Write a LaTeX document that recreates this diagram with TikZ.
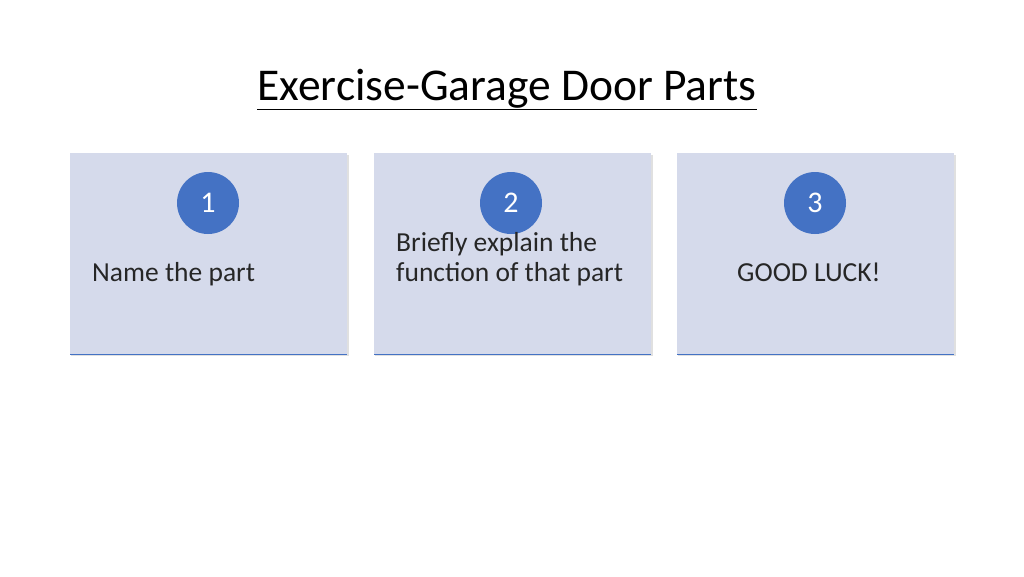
\documentclass[tikz,border=0pt]{standalone}
\usepackage{fontspec}
\setmainfont{Carlito}
\definecolor{boxfill}{HTML}{D5DAEB}
\definecolor{accent}{HTML}{4472C4}
\begin{document}
\begin{tikzpicture}[x=1pt,y=-1pt,
  card/.style={fill=boxfill,draw=none},
  numc/.style={circle,fill=accent,text=white,minimum size=62pt,inner sep=0pt,font=\fontsize{30}{34}\selectfont},
  lbl/.style={anchor=base west,align=left,font=\fontsize{27.5}{30}\selectfont,text=black!85,inner sep=0pt}]
\useasboundingbox (0,0) rectangle (1024,576);
\fill[white] (0,0) rectangle (1024,576);
\node[anchor=base,inner sep=0pt] (title) at (507,100) {\fontsize{45.5}{50}\selectfont\underline{Exercise-Garage Door Parts}};
\foreach \i/\x in {1/70,2/374,3/677}{
  \fill[black!12] (\x+1,155) rectangle (\x+279,356);
  \fill[card] (\x,153) rectangle (\x+277,354);
  \draw[accent,line width=1pt] (\x,354) -- (\x+277,354);
}
\node[numc] (n1) at (208,203) {1};
\node[numc] (n2) at (511,203) {2};
\node[numc] (n3) at (815,203) {3};
\node[lbl] (t1) at (92,281) {Name the part};
\node[lbl] (t2) at (396,281) {Briefly explain the\\function of that part};
\node[lbl] (t3) at (737,281) {GOOD LUCK!};
\end{tikzpicture}
\end{document}
